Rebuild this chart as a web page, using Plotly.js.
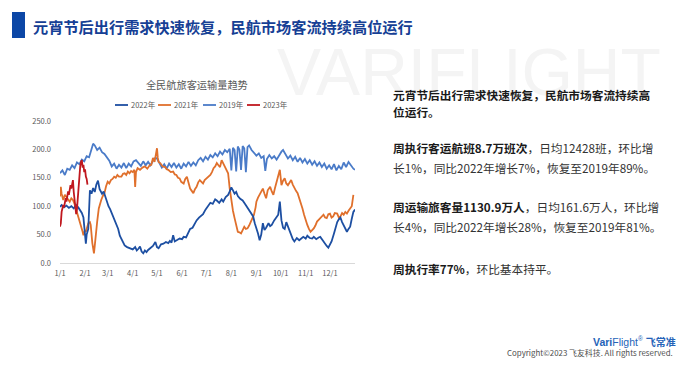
<!DOCTYPE html>
<html>
<head>
<meta charset="utf-8">
<script src="https://cdn.plot.ly/plotly-3.0.1.min.js"></script>
<style>
  html, body { margin:0; padding:0; background:#ffffff; }
  #page { position:relative; width:682px; height:368px; overflow:hidden; background:#ffffff; font-family:"Noto Sans CJK SC","Noto Sans",sans-serif; }
  .abs { position:absolute; white-space:nowrap; line-height:1; }
  #wm { left:277px; top:39px; font-family:"Liberation Sans",Arial,sans-serif; font-size:66px; color:#f4f4f4; letter-spacing:0px; }
  #bar { left:12px; top:12px; width:13px; height:26px; background:#0c47a6; }
  #ttl { left:33px; top:19px; font-size:15.2px; font-weight:700; color:#163f95; }
  .p { left:393px; font-size:11.7px; color:#333333; }
  .p b { color:#1a1a1a; font-weight:700; }
  #chart { position:absolute; left:0; top:0; width:682px; height:368px; }
  #logo { left:593px; top:336px; font-family:"Liberation Sans",Arial,sans-serif; font-size:10.5px; color:#2563b8; }
  #copy { left:507px; top:349px; font-size:7.9px; color:#4d4d4d; }
</style>
</head>
<body>
<div id="page">
  <div class="abs" id="wm">VARIFLIGHT</div>
  <div class="abs" id="bar"></div>
  <div class="abs" id="ttl">元宵节后出行需求快速恢复，民航市场客流持续高位运行</div>
  <div id="chart"></div>
  <div class="abs p" style="top:89px;"><b>元宵节后出行需求快速恢复，民航市场客流持续高</b></div>
  <div class="abs p" style="top:106px;"><b>位运行。</b></div>
  <div class="abs p" style="top:142px;"><b>周执行客运航班8.7万班次</b>，日均12428班，环比增</div>
  <div class="abs p" style="top:162px;">长1%，同比2022年增长7%，恢复至2019年89%。</div>
  <div class="abs p" style="top:201px;"><b>周运输旅客量1130.9万人</b>，日均161.6万人，环比增</div>
  <div class="abs p" style="top:221px;">长4%，同比2022年增长28%，恢复至2019年81%。</div>
  <div class="abs p" style="top:263px;"><b>周执行率77%</b>，环比基本持平。</div>
  <div class="abs" id="logo"><b>Vari</b>Flight<sup style="font-size:6.5px;">®</sup> <b style="font-family:'Noto Sans CJK SC';font-size:10px;">飞常准</b></div>
  <div class="abs" id="copy">Copyright©2023 飞友科技. All rights reserved.</div>
</div>
<script>
// ---- data (day of year, 万人) ----
const monthStarts = [0,31,59,90,120,151,181,212,243,273,304,334];
const monthLabels = ['1/1','2/1','3/1','4/1','5/1','6/1','7/1','8/1','9/1','10/1','11/1','12/1'];
const yTicks = [0,50,100,150,200,250];

const days2019 = [0,3,6,9,12,15,18,21,24,27,30,33,36,39,41,43,46,49,52,55,58,61,64,67,70,73,76,79,82,85,88,91,94,97,100,103,106,109,112,115,118,120,123,126,129,132,135,138,141,144,147,150,153,156,159,162,165,168,171,174,177,180,183,186,189,192,195,198,201,204,207,210,212,214,216,218,220,222,224,226,228,230,232,234,237,240,243,246,249,252,254,256,259,262,265,268,271,274,276,279,282,285,288,291,294,297,300,303,306,309,312,315,318,321,324,327,330,333,336,339,342,345,348,351,354,357,360,363,365];
const vals2019 = [158,163,155,166,164,172,167,177,174,182,179,188,186,203,210,207,199,203,195,192,185,180,170,175,166,173,168,176,167,175,170,179,181,175,171,179,172,178,172,180,185,184,176,168,174,166,175,169,176,168,174,166,175,170,178,171,177,172,181,185,179,187,182,190,186,193,188,196,191,199,195,201,163,203,199,161,205,200,164,206,202,160,204,207,199,194,189,193,185,188,162,183,190,184,188,182,190,196,199,191,184,189,181,187,178,185,177,183,175,181,173,179,171,177,169,175,166,172,165,174,163,171,165,177,169,178,171,166,164];

const days2022 = [0,2,5,8,11,14,17,20,23,25,27,29,30,31,32,33,35,37,39,41,43,45,47,49,52,54,56,58,60,62,64,67,70,72,74,77,80,83,87,90,93,95,97,99,101,103,105,107,109,111,113,115,118,120,122,125,128,131,134,136,138,140,142,145,148,151,153,156,159,161,164,167,169,172,175,177,180,183,186,189,192,194,197,200,202,205,208,210,212,214,216,218,220,223,226,229,232,235,237,239,241,243,245,247,249,251,253,255,258,260,262,265,268,270,272,274,276,278,280,282,284,286,288,290,293,296,298,301,304,306,309,312,314,317,320,322,325,327,330,332,334,336,339,341,343,345,347,349,351,353,355,357,359,361,363,365];
const vals2022 = [99,102,98,101,97,100,96,102,97,93,88,80,62,45,34,50,60,128,122,132,125,138,145,130,122,126,116,110,100,95,88,80,69,60,48,38,31,28,26,24,28,22,25,29,20,17,22,19,23,25,28,30,37,28,26,33,34,37,35,39,36,49,38,40,43,42,46,45,55,60,62,70,75,80,84,86,94,100,106,104,112,110,106,112,108,116,120,126,133,128,122,125,118,113,110,104,98,92,88,82,70,62,52,40,50,70,58,62,70,65,67,75,80,85,108,75,62,60,72,64,55,48,42,38,44,40,42,46,43,48,44,43,46,42,45,46,40,35,30,27,32,38,52,64,72,77,80,72,66,58,55,60,64,78,90,94];

const days2021 = [0,1,2,4,6,8,10,12,14,16,18,20,21,23,25,26,28,29,31,32,34,35,37,38,40,41,42,43,44,46,48,50,51,53,55,57,59,61,63,65,67,69,71,73,76,78,80,82,84,86,88,90,92,93,94,96,99,102,105,108,111,113,115,117,119,120,121,122,124,127,130,132,134,137,140,142,144,146,148,150,153,155,157,159,161,163,165,167,169,171,173,175,177,179,181,183,186,188,190,192,194,196,198,200,202,204,206,208,210,212,214,216,218,220,222,224,226,228,230,232,234,236,238,240,242,243,245,247,249,251,253,255,257,260,262,264,266,268,270,272,274,276,278,280,282,284,286,288,290,292,294,296,298,300,302,304,306,308,310,312,314,316,318,320,322,324,326,328,330,332,334,336,338,340,343,345,347,349,351,353,355,357,359,361,363];
const vals2021 = [117,134,122,111,120,116,112,108,114,111,104,95,90,79,68,64,55,49,58,55,68,70,72,67,35,23,17,30,49,73,96,108,111,118,123,135,143,140,146,148,152,150,155,152,152,157,158,155,161,158,162,160,164,134,160,167,164,168,170,166,172,173,185,178,199,202,185,178,176,170,169,165,164,160,161,156,155,150,149,143,140,148,152,140,131,127,123,130,134,142,146,143,140,146,149,152,155,160,167,170,176,172,169,181,175,167,163,158,131,108,92,79,65,55,54,52,58,64,60,61,66,73,80,85,98,108,115,120,126,131,122,114,128,134,126,120,132,143,150,164,137,145,149,140,137,142,146,138,131,127,123,115,108,96,85,75,67,60,55,58,61,66,73,76,79,83,85,80,79,86,87,80,82,88,87,80,82,88,85,90,87,92,96,100,120];

const days2023 = [0,1,2,3,4,5,6,7,8,9,10,11,12,13,14,15,16,17,18,19,20,21,22,23,24,25,26,27,28,29,30,31,32,33,34];
const vals2023 = [64,70,90,96,102,98,105,114,108,118,126,120,130,137,131,140,146,125,110,92,86,95,115,140,160,170,178,181,168,173,160,165,152,148,138];

const seriesNames = ['2022年','2021年','2019年','2023年'];
const seriesColors = ['#1d4fa2','#e0702c','#4a7bc8','#c0181f'];

const traces = [
  {x: days2019, y: vals2019, name: seriesNames[2], color: seriesColors[2]},
  {x: days2021, y: vals2021, name: seriesNames[1], color: seriesColors[1]},
  {x: days2022, y: vals2022, name: seriesNames[0], color: seriesColors[0]},
  {x: days2023, y: vals2023, name: seriesNames[3], color: seriesColors[3]}
].map(s => ({
  type: 'scatter', mode: 'lines', x: s.x, y: s.y, name: s.name,
  line: {color: s.color, width: 1.8},
  hoverinfo: 'skip', showlegend: false
}));

// ---- pixel -> paper helpers (plot area x 60..355, y 121..263) ----
const PL = 60, PW = 295, PB = 263, PH = 142;
const px = v => (v - PL) / PW;
const py = v => (PB - v) / PH;

const font = {family: '"Noto Sans CJK SC","Noto Sans",sans-serif', size: 7.5, color: '#595959'};

// compact legend: short line + label per series
const legendStarts = [115, 158, 203, 247];
const legendY = 105;
const shapes = [];
const annotations = [];
seriesNames.forEach((nm, i) => {
  shapes.push({type: 'line', xref: 'paper', yref: 'paper',
    x0: px(legendStarts[i]), x1: px(legendStarts[i] + 13), y0: py(legendY), y1: py(legendY),
    line: {color: seriesColors[i], width: 1.8}});
  annotations.push({xref: 'paper', yref: 'paper', x: px(legendStarts[i] + 14), y: py(legendY),
    xanchor: 'left', yanchor: 'middle', text: nm, showarrow: false,
    font: {family: font.family, size: 7.5, color: '#595959'}});
});

const layout = {
  width: 682, height: 368, autosize: false,
  margin: {l: 60, r: 327, t: 121, b: 105, pad: 0},
  paper_bgcolor: 'rgba(0,0,0,0)', plot_bgcolor: 'rgba(0,0,0,0)',
  font: font,
  title: {text: '全民航旅客运输量趋势', font: {family: font.family, size: 10.2, color: '#595959'},
          x: 0.464, xref: 'paper', xanchor: 'center', y: 1 - 85/368, yref: 'container', yanchor: 'middle'},
  showlegend: false,
  shapes: shapes,
  annotations: annotations,
  xaxis: {range: [0, 365], tickmode: 'array', tickvals: monthStarts, ticktext: monthLabels,
          showgrid: false, zeroline: false, showline: true, linecolor: '#d9d9d9', linewidth: 1,
          ticks: '', tickfont: {family: font.family, size: 7.5, color: '#595959'}, ticklabelstandoff: 3, fixedrange: true},
  yaxis: {range: [0, 250], tickmode: 'array', tickvals: yTicks, tickformat: '.1f',
          showgrid: false, zeroline: false, showline: false, ticks: '',
          tickfont: {family: font.family, size: 7.5, color: '#595959'}, ticklabelstandoff: 8, fixedrange: true}
};

Plotly.newPlot('chart', traces, layout, {staticPlot: true, displayModeBar: false});
</script>
</body>
</html>
